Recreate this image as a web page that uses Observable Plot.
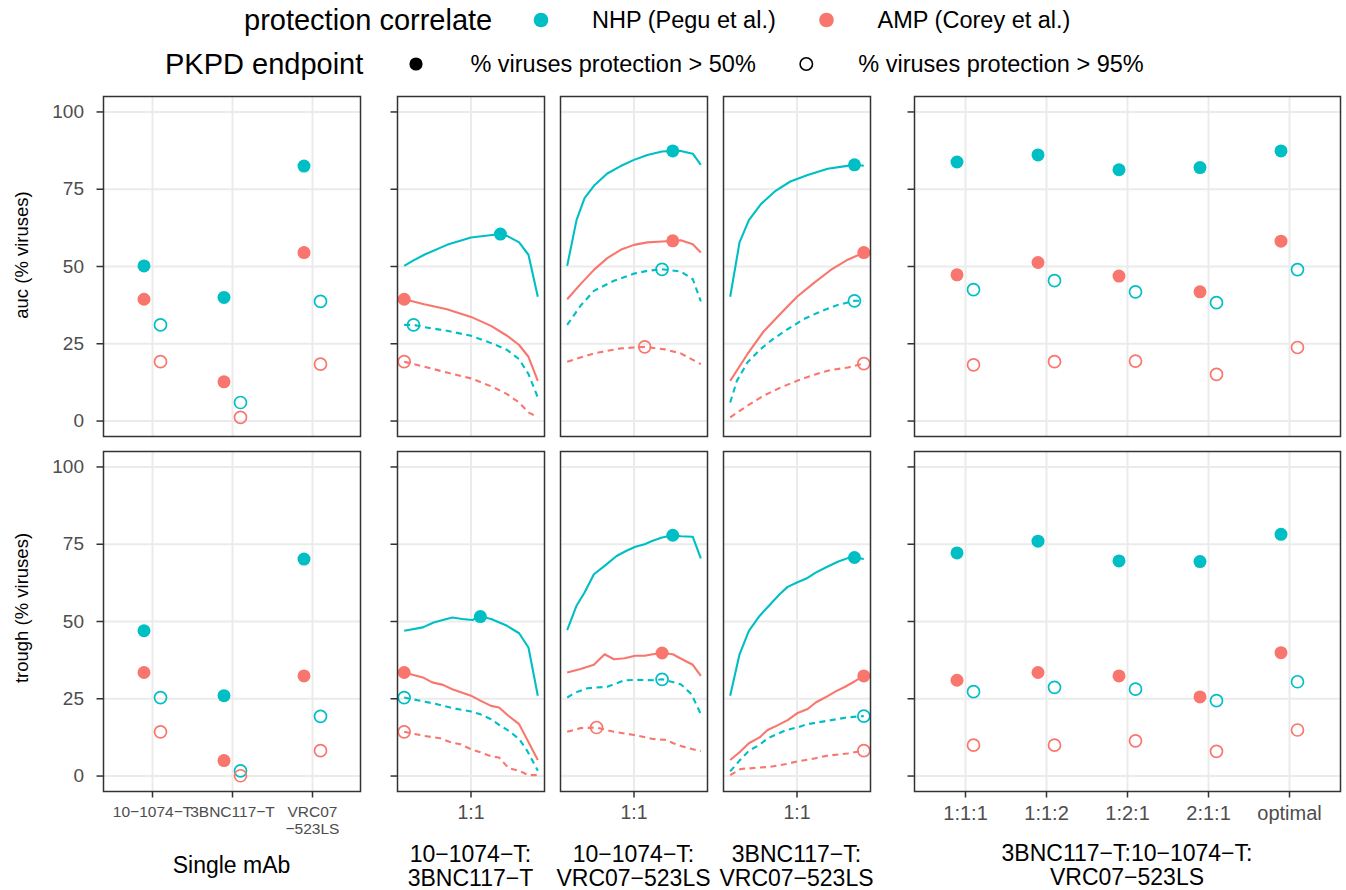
<!DOCTYPE html>
<html><head><meta charset="utf-8">
<script src="https://cdn.jsdelivr.net/npm/d3@7"></script>
<script src="https://cdn.jsdelivr.net/npm/@observablehq/plot@0.6"></script>
<style>
html,body{margin:0;padding:0;background:#fff;}
#chart{position:relative;width:1346px;height:890px;font-family:"Liberation Sans",Arial,sans-serif;}
#chart svg{position:absolute;}
</style></head><body><div id="chart"></div>
<script>
// ---------- categories & labels ----------
const correlates = ["NHP (Pegu et al.)", "AMP (Corey et al.)"];
const correlateColors = ["#00BFC4", "#F8766D"];
const endpoints = ["% viruses protection > 50%", "% viruses protection > 95%"];
const metricLabels = ["auc (% viruses)", "trough (% viruses)"];
const singleMabs = ["10−1074−T", "3BNC117−T", "VRC07−523LS"];
const singleTickLabels = ["10−1074−T", "3BNC117−T", "VRC07\n−523LS"];
const singleTitle = ["Single mAb"];
const pairTitles = [["10−1074−T:", "3BNC117−T"], ["10−1074−T:", "VRC07−523LS"], ["3BNC117−T:", "VRC07−523LS"]];
const pairTicks = [0.5];
const pairTickLabels = ["1:1"];
const tripleRatios = ["1:1:1", "1:1:2", "1:2:1", "2:1:1", "optimal"];
const tripleTitle = ["3BNC117−T:10−1074−T:", "VRC07−523LS"];
const yTicks = [0, 25, 50, 75, 100];

// ---------- single mAb (order of singleMabs) ----------
const aucSingleNhp50 = [50.2, 40.0, 82.5];
const aucSingleAmp50 = [39.4, 12.7, 54.5];
const aucSingleNhp95 = [31.1, 6.0, 38.7];
const aucSingleAmp95 = [19.2, 1.2, 18.4];
const troughSingleNhp50 = [47.0, 26.0, 70.2];
const troughSingleAmp50 = [33.5, 5.0, 32.4];
const troughSingleNhp95 = [25.4, 1.7, 19.3];
const troughSingleAmp95 = [14.3, 0.1, 8.2];

// ---------- triple mAb (order of tripleRatios) ----------
const aucTripleNhp50 = [83.8, 86.1, 81.3, 82.0, 87.4];
const aucTripleAmp50 = [47.3, 51.3, 46.9, 41.8, 58.2];
const aucTripleNhp95 = [42.5, 45.4, 41.8, 38.3, 49.0];
const aucTripleAmp95 = [18.2, 19.2, 19.4, 15.1, 23.8];
const troughTripleNhp50 = [72.2, 76.0, 69.6, 69.4, 78.2];
const troughTripleAmp50 = [31.0, 33.5, 32.4, 25.6, 39.9];
const troughTripleNhp95 = [27.3, 28.7, 28.1, 24.4, 30.5];
const troughTripleAmp95 = [10.0, 10.0, 11.4, 8.0, 14.9];

// ---------- pair curves [proportion, value] ----------
const aucP1Nhp50 = [[0,50.2],[.07,52.0],[.15,53.8],[.32,57.0],[.5,59.4],[.72,60.5],[.77,59.9],[.86,57.8],[.93,53.8],[1,40.2]];
const aucP1Amp50 = [[0,39.4],[.15,37.8],[.32,36.2],[.5,33.7],[.65,30.8],[.77,27.6],[.86,24.6],[.93,20.8],[1,13.0]];
const aucP1Nhp95 = [[0,31.1],[.07,31.1],[.15,30.4],[.32,29.2],[.5,27.6],[.67,24.9],[.77,23.0],[.86,20.0],[.93,15.2],[1,7.6]];
const aucP1Amp95 = [[0,19.2],[.15,17.6],[.32,15.7],[.5,13.8],[.67,10.9],[.77,8.7],[.86,6.0],[.93,2.8],[1,1.2]];
const aucP1Opt = [[.72,60.5],[0,39.4],[.07,31.1],[0,19.2]];

const aucP2Nhp50 = [[0,50.2],[.07,65.0],[.13,72.1],[.2,76.1],[.3,80.1],[.4,82.5],[.5,84.5],[.6,86.1],[.71,87.2],[.79,87.4],[.85,87.4],[.94,86.5],[1,82.9]];
const aucP2Amp50 = [[0,39.4],[.1,44.3],[.2,48.9],[.3,52.7],[.4,55.4],[.5,57.0],[.6,57.8],[.71,58.1],[.79,58.3],[.85,58.5],[.94,57.2],[1,54.5]];
const aucP2Nhp95 = [[0,31.1],[.1,37.3],[.2,42.1],[.35,45.4],[.5,47.7],[.6,48.6],[.71,49.1],[.85,48.4],[.94,45.9],[1,38.7]];
const aucP2Amp95 = [[0,19.2],[.2,21.9],[.4,23.5],[.58,24.0],[.73,23.2],[.85,21.9],[1,18.4]];
const aucP2Opt = [[.79,87.4],[.79,58.3],[.71,49.1],[.58,24.0]];

const aucP3Nhp50 = [[0,40.2],[.07,57.8],[.14,65.0],[.23,70.2],[.34,74.5],[.45,77.5],[.58,79.6],[.73,81.6],[.85,82.4],[.93,82.9],[1,82.6]];
const aucP3Amp50 = [[0,13.0],[.13,21.7],[.25,29.0],[.38,34.9],[.5,40.2],[.63,44.8],[.75,48.8],[.88,52.2],[1,54.5]];
const aucP3Nhp95 = [[0,6.0],[.05,13.0],[.13,19.0],[.22,23.0],[.32,26.5],[.43,29.7],[.55,33.0],[.68,35.5],[.8,37.5],[.93,38.9],[1,38.9]];
const aucP3Amp95 = [[0,1.2],[.13,5.0],[.25,8.2],[.38,10.9],[.5,13.0],[.63,15.0],[.75,16.5],[.88,17.3],[1,18.6]];
const aucP3Opt = [[.93,82.9],[1,54.5],[.93,38.9],[1,18.6]];

const troughP1Nhp50 = [[0,47.0],[.14,48.1],[.22,49.7],[.36,51.3],[.435,50.8],[.51,50.5],[.57,51.6],[.65,50.8],[.77,48.6],[.86,46.2],[.93,41.6],[1,26.0]];
const troughP1Amp50 = [[0,33.5],[.14,31.9],[.21,30.3],[.29,29.5],[.36,28.1],[.5,26.0],[.57,24.4],[.65,22.7],[.71,22.2],[.78,19.5],[.86,16.8],[1,5.2]];
const troughP1Nhp95 = [[0,25.4],[.15,24.1],[.24,23.3],[.36,22.0],[.5,20.9],[.57,20.0],[.65,18.4],[.72,16.3],[.78,14.7],[.86,12.0],[.92,8.2],[1,1.7]];
const troughP1Amp95 = [[0,14.3],[.15,13.0],[.27,12.2],[.35,10.9],[.42,10.3],[.5,8.7],[.57,7.7],[.65,6.4],[.71,6.0],[.78,2.6],[.86,1.7],[.93,0.3],[1,0.3]];
const troughP1Opt = [[.57,51.6],[0,33.5],[0,25.4],[0,14.3]];

const troughP2Nhp50 = [[0,47.2],[.07,55.1],[.13,59.4],[.2,65.3],[.28,68.0],[.37,71.2],[.44,72.8],[.51,74.2],[.58,75.0],[.64,76.1],[.71,77.2],[.79,77.9],[.85,77.6],[.94,77.4],[1,70.4]];
const troughP2Amp50 = [[0,33.5],[.1,34.6],[.2,36.0],[.28,39.4],[.35,37.8],[.43,38.1],[.51,38.9],[.58,38.9],[.64,39.4],[.71,39.8],[.79,39.4],[.86,37.8],[.94,36.0],[1,32.4]];
const troughP2Nhp95 = [[0,25.4],[.05,26.8],[.15,28.4],[.3,28.9],[.43,31.0],[.53,31.1],[.64,31.0],[.71,31.3],[.85,29.7],[.93,26.5],[1,20.0]];
const troughP2Amp95 = [[0,14.3],[.1,15.5],[.22,15.7],[.35,14.3],[.5,13.3],[.64,12.0],[.74,11.7],[.79,10.7],[.86,9.6],[.94,8.7],[1,8.0]];
const troughP2Opt = [[.79,77.9],[.71,39.8],[.71,31.3],[.22,15.7]];

const troughP3Nhp50 = [[0,26.0],[.07,39.4],[.14,47.0],[.22,51.8],[.29,55.1],[.37,58.8],[.43,61.2],[.5,62.6],[.57,63.9],[.64,65.8],[.73,67.8],[.81,69.4],[.88,70.5],[.93,70.7],[1,70.2]];
const troughP3Amp50 = [[0,5.2],[.07,7.7],[.14,10.6],[.22,12.5],[.28,14.9],[.35,16.3],[.43,18.1],[.5,20.3],[.58,21.7],[.64,23.8],[.71,25.4],[.79,27.4],[.86,28.9],[.93,30.6],[1,32.4]];
const troughP3Nhp95 = [[0,1.5],[.07,5.0],[.14,8.2],[.22,10.1],[.28,12.2],[.42,14.9],[.5,15.7],[.58,16.8],[.73,17.9],[.88,19.0],[1,19.4]];
const troughP3Amp95 = [[0,0.3],[.08,2.3],[.18,2.6],[.3,3.0],[.42,3.9],[.5,4.7],[.63,5.7],[.73,6.6],[.88,7.3],[1,8.2]];
const troughP3Opt = [[.93,70.7],[1,32.4],[1,19.4],[1,8.2]];

// ---------- assembly ----------
const SERIES = [[0,0],[1,0],[0,1],[1,1]]; // NHP>50, AMP>50, NHP>95, AMP>95
const singleData = [
  [aucSingleNhp50, aucSingleAmp50, aucSingleNhp95, aucSingleAmp95],
  [troughSingleNhp50, troughSingleAmp50, troughSingleNhp95, troughSingleAmp95]];
const tripleData = [
  [aucTripleNhp50, aucTripleAmp50, aucTripleNhp95, aucTripleAmp95],
  [troughTripleNhp50, troughTripleAmp50, troughTripleNhp95, troughTripleAmp95]];
const pairCurves = [
  [[aucP1Nhp50, aucP1Amp50, aucP1Nhp95, aucP1Amp95], [aucP2Nhp50, aucP2Amp50, aucP2Nhp95, aucP2Amp95], [aucP3Nhp50, aucP3Amp50, aucP3Nhp95, aucP3Amp95]],
  [[troughP1Nhp50, troughP1Amp50, troughP1Nhp95, troughP1Amp95], [troughP2Nhp50, troughP2Amp50, troughP2Nhp95, troughP2Amp95], [troughP3Nhp50, troughP3Amp50, troughP3Nhp95, troughP3Amp95]]];
const pairOpts = [[aucP1Opt, aucP2Opt, aucP3Opt], [troughP1Opt, troughP2Opt, troughP3Opt]];

function catRows(cats, lists) {
  return lists.flatMap((vals, s) => vals.map((v, i) => ({cat: cats[i], y: v, correlate: correlates[SERIES[s][0]], endpoint: endpoints[SERIES[s][1]]})));
}
function curveRows(lists) {
  return lists.flatMap((pts, s) => pts.map(([x, y]) => ({x, y, correlate: correlates[SERIES[s][0]], endpoint: endpoints[SERIES[s][1]]})));
}
function optRows(pts) {
  return pts.map(([x, y], s) => ({x, y, correlate: correlates[SERIES[s][0]], endpoint: endpoints[SERIES[s][1]]}));
}

// ---------- layout ----------
const FONT = "'Liberation Sans', Arial, Helvetica, sans-serif";
const colX = [[103,360],[397,544],[560,707],[723,870],[914,1340]];
const rowY = [[96,436],[451,791]];
const ML = [100, 12, 2, 2, 12];
const chart = document.getElementById("chart");
const GRID = {stroke: "#EBEBEB", strokeOpacity: 1, strokeWidth: 2};
const AX = {stroke: "#333333", strokeWidth: 1.5, fill: "#4D4D4D", label: null};
const LW = 2.1, DASH = "6,4.5";

function place(svg, left, top) {
  svg.style.left = left + "px"; svg.style.top = top + "px";
  chart.appendChild(svg);
}

function panel(ci, ri, xOpt, xGrid, xAxisMark, dataMarks) {
  const [x0, x1] = colX[ci], [y0, y1] = rowY[ri];
  const ml = ML[ci], mt = 2, mr = 2, mb = ri === 1 ? 70 : 2;
  const hasY = ci === 0 || ci === 1 || ci === 4;
  const marks = [
    Plot.gridY(yTicks, GRID),
    Plot.gridX(xGrid, GRID),
    ...dataMarks,
    Plot.frame({stroke: "#333333", strokeWidth: 1.5})
  ];
  if (hasY) {
    marks.push(Plot.axisY(yTicks, {...AX, tickSize: 6.5, tickPadding: 13, fontSize: 19,
      tickFormat: ci === 0 ? (d => String(d)) : (() => "")}));
  }
  if (ri === 1) marks.push(xAxisMark);
  const svg = Plot.plot({
    width: (x1 - x0) + ml + mr, height: (y1 - y0) + mt + mb,
    marginLeft: ml, marginRight: mr, marginTop: mt, marginBottom: mb,
    style: {fontFamily: FONT, background: "transparent", overflow: "visible"},
    x: {...xOpt, label: null, ...(ri === 1 ? {} : {axis: null})},
    y: {domain: [-5, 105], label: null, ...(hasY ? {} : {axis: null})},
    color: {domain: correlates, range: correlateColors},
    marks
  });
  place(svg, x0 - ml, y0 - mt);
}

function catDots(cats, lists) {
  const rows = catRows(cats, lists);
  return [
    Plot.dot(rows.filter(d => d.endpoint === endpoints[0]), {x: "cat", y: "y", fill: "correlate", r: 6.5, dx: -8.5}),
    Plot.dot(rows.filter(d => d.endpoint === endpoints[1]), {x: "cat", y: "y", stroke: "correlate", fill: "none", r: 6, strokeWidth: 1.7, dx: 8})
  ];
}
function pairMarks(curves, opts) {
  const rows = curveRows(curves), pts = optRows(opts);
  return [
    Plot.line(rows.filter(d => d.endpoint === endpoints[0]), {x: "x", y: "y", z: "correlate", stroke: "correlate", strokeWidth: LW, strokeLinecap: "butt"}),
    Plot.line(rows.filter(d => d.endpoint === endpoints[1]), {x: "x", y: "y", z: "correlate", stroke: "correlate", strokeWidth: LW, strokeLinecap: "butt", strokeDasharray: DASH}),
    Plot.dot(pts.filter(d => d.endpoint === endpoints[0]), {x: "x", y: "y", fill: "correlate", r: 6.5}),
    Plot.dot(pts.filter(d => d.endpoint === endpoints[1]), {x: "x", y: "y", stroke: "correlate", fill: "none", r: 6, strokeWidth: 1.7})
  ];
}

for (let ri = 0; ri < 2; ri++) {
  panel(0, ri, {type: "point", domain: singleMabs, padding: 0.6}, singleMabs,
    Plot.axisX(singleMabs, {...AX, tickSize: 6.5, tickPadding: 7, fontSize: 15.5, lineHeight: 1.08,
      tickFormat: d => singleTickLabels[singleMabs.indexOf(d)]}),
    catDots(singleMabs, singleData[ri]));
  for (let p = 0; p < 3; p++) {
    panel(1 + p, ri, {domain: [-0.05, 1.05]}, pairTicks,
      Plot.axisX(pairTicks, {...AX, tickSize: 6.5, tickPadding: 7.5, fontSize: 19.5,
        tickFormat: (d, i) => pairTickLabels[i]}),
      pairMarks(pairCurves[ri][p], pairOpts[ri][p]));
  }
  panel(4, ri, {type: "point", domain: tripleRatios, padding: 0.6}, tripleRatios,
    Plot.axisX(tripleRatios, {...AX, tickSize: 6.5, tickPadding: 7.5, fontSize: 20}),
    catDots(tripleRatios, tripleData[ri]));
}

// ---------- titles & legend (text overlay) ----------
const ov = d3.create("svg").attr("width", 1346).attr("height", 890)
  .style("left", "0px").style("top", "0px").style("font-family", FONT);
function txt(x, y, s, size, anchor, extra) {
  const t = ov.append("text").attr("x", x).attr("y", y).attr("font-size", size)
    .attr("text-anchor", anchor || "start").attr("fill", "#000").text(s);
  if (extra) extra(t);
  return t;
}
const yTitleY = [255, 608];
metricLabels.forEach((s, i) => txt(28, yTitleY[i], s, 18.5, "middle", t => t.attr("transform", `rotate(-90,28,${yTitleY[i]})`)));
txt((colX[0][0] + colX[0][1]) / 2, 873, singleTitle[0], 23, "middle");
pairTitles.forEach((lines, p) => {
  const cx = (colX[1 + p][0] + colX[1 + p][1]) / 2;
  lines.forEach((s, k) => txt(cx, 861.5 + k * 24.5, s, 23, "middle"));
});
tripleTitle.forEach((s, k) => txt((colX[4][0] + colX[4][1]) / 2, 861 + k * 24, s, 23, "middle"));
txt(244, 30, "protection correlate", 29);
const legCx = [541, 826.5], legLx = [592, 877.6];
correlates.forEach((s, i) => {
  ov.append("circle").attr("cx", legCx[i]).attr("cy", 20).attr("r", 7.3).attr("fill", correlateColors[i]);
  txt(legLx[i], 28.2, s, 23.5);
});
txt(165, 74, "PKPD endpoint", 29);
const epCx = [416, 806.3], epLx = [470.4, 858.3];
endpoints.forEach((s, i) => {
  const c = ov.append("circle").attr("cx", epCx[i]).attr("cy", 64);
  if (i === 0) c.attr("r", 6.6).attr("fill", "#000");
  else c.attr("r", 6.2).attr("fill", "none").attr("stroke", "#000").attr("stroke-width", 1.6);
  txt(epLx[i], 72.2, s, 23.5);
});
chart.insertBefore(ov.node(), chart.firstChild);
</script></body></html>
